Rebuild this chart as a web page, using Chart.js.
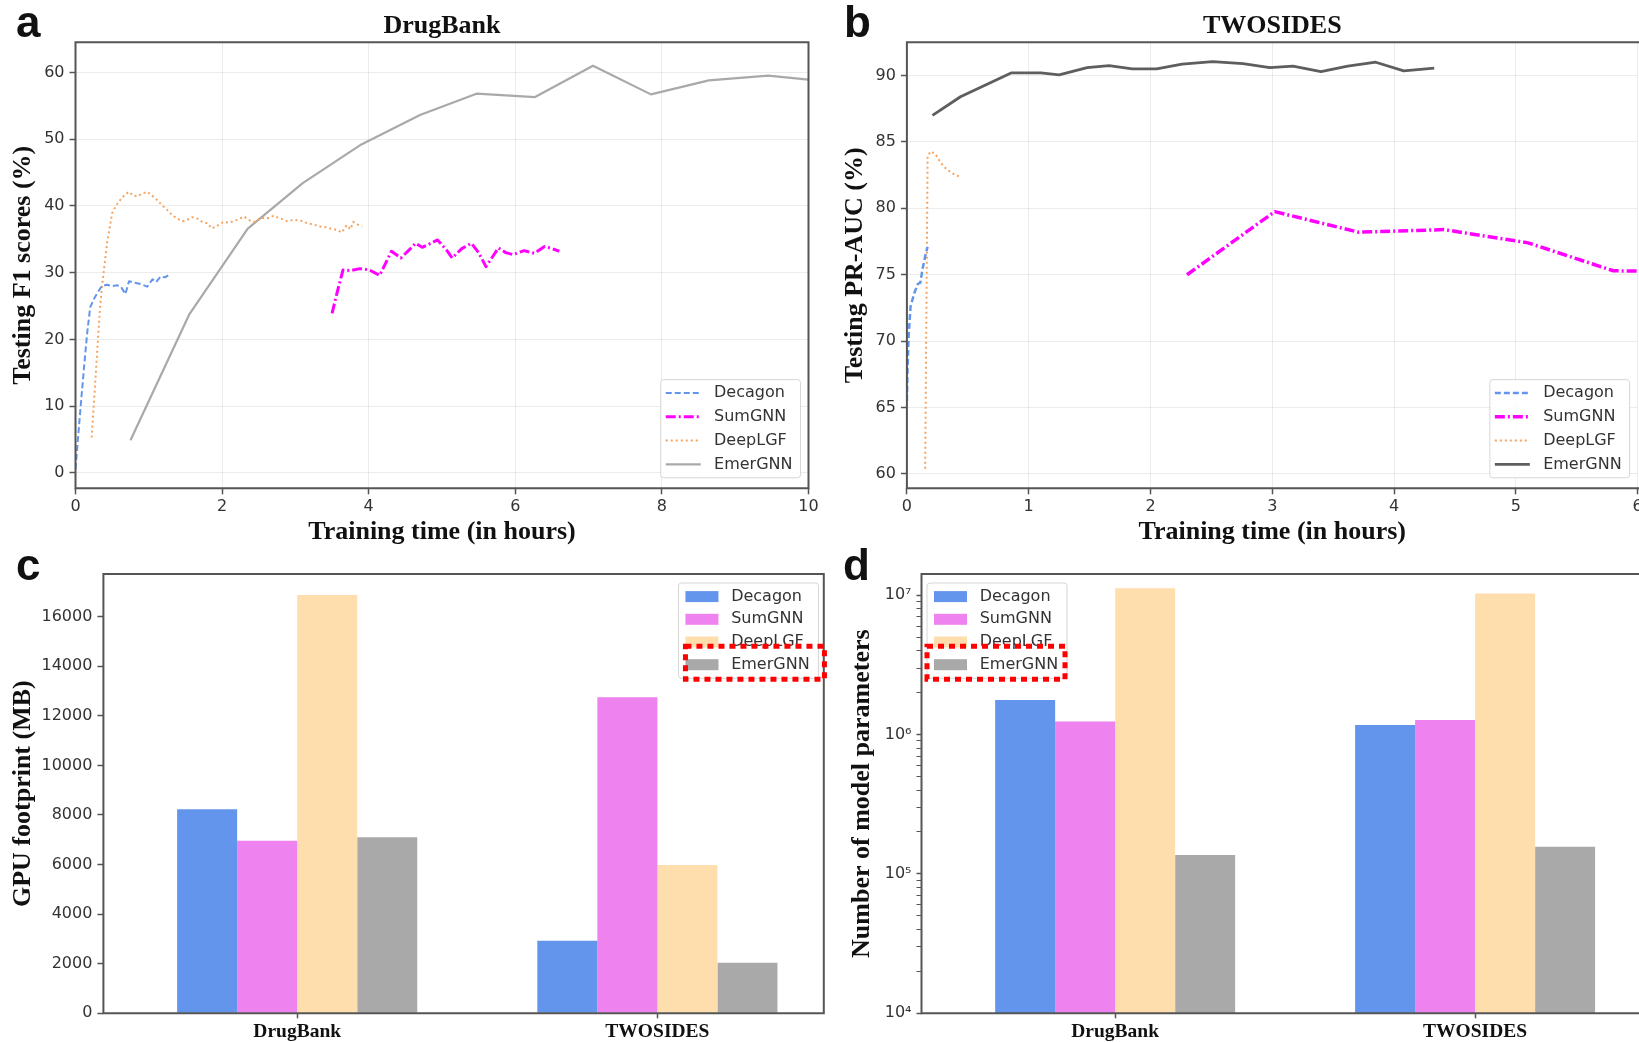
<!DOCTYPE html>
<html>
<head>
<meta charset="utf-8">
<title>EmerGNN efficiency</title>
<script src="https://cdn.jsdelivr.net/npm/chart.js@4.4.1/dist/chart.umd.min.js"></script>
<style>
  html, body { margin: 0; padding: 0; background: #fff; }
  body { width: 1639px; height: 1042px; overflow: hidden; position: relative; }
  .panel { position: absolute; }
  .panel canvas { display: block; }
</style>
</head>
<body>
<div class="panel" style="left:0px;top:0px;"><canvas id="chartA" width="830" height="560"></canvas></div>
<div class="panel" style="left:830px;top:0px;"><canvas id="chartB" width="820" height="560"></canvas></div>
<div class="panel" style="left:0px;top:540px;"><canvas id="chartC" width="840" height="502"></canvas></div>
<div class="panel" style="left:840px;top:540px;"><canvas id="chartD" width="810" height="502"></canvas></div>
<script>
// ---------- (a) DrugBank: testing F1 (%) against training time (hours) ----------
const dbDecagonHours = [0.0, 0.04, 0.09, 0.13, 0.16, 0.2, 0.25, 0.3, 0.36, 0.43, 0.5, 0.57, 0.62, 0.68, 0.73, 0.8, 0.89, 0.98, 1.05, 1.1, 1.16, 1.22, 1.28];
const dbDecagonF1    = [0.6, 6.0, 12.5, 17.5, 21.0, 24.8, 26.0, 27.0, 28.0, 28.2, 28.0, 28.1, 27.9, 26.8, 28.7, 28.5, 28.3, 27.9, 29.0, 28.6, 29.4, 29.3, 29.7];

const dbSumGNNHours = [3.5, 3.58, 3.65, 3.75, 3.88, 4.01, 4.15, 4.31, 4.44, 4.57, 4.64, 4.73, 4.81, 4.94, 5.06, 5.14, 5.27, 5.4, 5.5, 5.6, 5.77, 5.87, 5.97, 6.12, 6.26, 6.4, 6.5, 6.6];
const dbSumGNNF1    = [23.9, 27.5, 30.4, 30.3, 30.6, 30.4, 29.6, 33.2, 32.2, 33.6, 34.4, 33.8, 34.2, 34.9, 33.4, 32.2, 33.6, 34.4, 33.0, 30.9, 33.7, 33.0, 32.7, 33.3, 32.9, 33.9, 33.6, 33.2];

const dbDeepLGFHours = [0.22, 0.26, 0.3, 0.33, 0.36, 0.4, 0.43, 0.47, 0.5, 0.55, 0.59, 0.64, 0.69, 0.73, 0.78, 0.84, 0.9, 0.98, 1.04, 1.11, 1.18, 1.25, 1.32, 1.39, 1.46, 1.52, 1.59, 1.66, 1.73, 1.8, 1.86, 1.93, 2.02, 2.1, 2.2, 2.3, 2.38, 2.45, 2.53, 2.61, 2.7, 2.8, 2.89, 2.98, 3.07, 3.16, 3.25, 3.34, 3.42, 3.48, 3.57, 3.63, 3.7, 3.75, 3.79, 3.85, 3.91];
const dbDeepLGFF1    = [5.3, 12.0, 18.9, 24.0, 27.9, 31.5, 34.4, 37.0, 38.9, 40.0, 40.6, 41.3, 41.8, 42.1, 41.6, 41.4, 41.8, 42.1, 41.6, 40.9, 40.1, 39.4, 38.6, 38.1, 37.7, 37.9, 38.3, 38.1, 37.6, 37.4, 36.6, 37.0, 37.6, 37.5, 37.9, 38.4, 37.8, 37.6, 38.2, 38.1, 38.5, 38.1, 37.7, 37.9, 37.8, 37.4, 37.2, 36.9, 36.8, 36.6, 36.4, 36.0, 37.1, 36.5, 37.6, 37.2, 36.9];

const dbEmerGNNHours = [0.75, 1.55, 2.35, 3.1, 3.9, 4.7, 5.47, 6.27, 7.06, 7.85, 8.64, 9.45, 10.0];
const dbEmerGNNF1    = [4.9, 23.7, 36.6, 43.4, 49.2, 53.6, 56.8, 56.3, 61.0, 56.7, 58.8, 59.5, 58.9];

const f1TickValues = [0, 10, 20, 30, 40, 50, 60];
const dbHourTickValues = [0, 2, 4, 6, 8, 10];

// ---------- (b) TWOSIDES: testing PR-AUC (%) against training time (hours) ----------
const tsDecagonHours = [0.0, 0.005, 0.015, 0.03, 0.06, 0.09, 0.11, 0.13, 0.155, 0.17];
const tsDecagonAUC   = [65.5, 68.0, 70.5, 72.6, 73.6, 74.3, 74.4, 75.5, 76.6, 77.1];

const tsSumGNNHours = [2.3, 3.02, 3.71, 4.41, 5.1, 5.8, 6.5];
const tsSumGNNAUC   = [75.0, 79.75, 78.2, 78.4, 77.4, 75.3, 75.2];

const tsDeepLGFHours = [0.15, 0.16, 0.17, 0.2, 0.24, 0.28, 0.32, 0.36, 0.4, 0.43];
const tsDeepLGFAUC   = [60.4, 72.0, 84.0, 84.3, 84.0, 83.4, 83.0, 82.7, 82.5, 82.4];

const tsEmerGNNHours = [0.21, 0.44, 0.65, 0.86, 1.1, 1.25, 1.48, 1.66, 1.85, 2.05, 2.26, 2.51, 2.76, 2.98, 3.17, 3.4, 3.62, 3.85, 4.08, 4.33];
const tsEmerGNNAUC   = [87.0, 88.4, 89.3, 90.2, 90.2, 90.05, 90.6, 90.75, 90.5, 90.5, 90.85, 91.05, 90.9, 90.6, 90.7, 90.3, 90.7, 91.0, 90.35, 90.55];

const aucTickValues = [60, 65, 70, 75, 80, 85, 90];
const tsHourTickValues = [0, 1, 2, 3, 4, 5, 6];

// ---------- (c) GPU footprint (MB) and (d) number of model parameters ----------
const datasetNames = ['DrugBank', 'TWOSIDES'];
const groupPositions = [0, 1];
const modelNames = ['Decagon', 'SumGNN', 'DeepLGF', 'EmerGNN'];
const gpuDecagon = [8230, 2930];
const gpuSumGNN  = [6960, 12750];
const gpuDeepLGF = [16870, 5980];
const gpuEmerGNN = [7100, 2040];
const gpuTickValues = [0, 2000, 4000, 6000, 8000, 10000, 12000, 14000, 16000];

const paramDecagon = [1.77e6, 1.17e6];
const paramSumGNN  = [1.24e6, 1.27e6];
const paramDeepLGF = [1.12e7, 1.03e7];
const paramEmerGNN = [1.37e5, 1.57e5];
const paramMajorTicks = [1e4, 1e5, 1e6, 1e7];

// ---------- shared styling ----------
const SANS = '"DejaVu Sans", sans-serif';
const SERIF = '"Liberation Serif", "Times New Roman", serif';
const tickFont = { family: SANS, size: 16 };
const axisTitleFont = { family: SERIF, size: 26, weight: 'bold' };
const gridColor = 'rgba(0,0,0,0.075)';
const spineColor = '#555';
const barColors = ['#6495ED', '#EE82EE', '#FFDEAD', '#A9A9A9'];

function toPoints(xs, ys) { return xs.map((x, i) => ({ x: x, y: ys[i] })); }
function setTicks(values) { return ax => { ax.ticks = values.map(v => ({ value: v })); }; }

// Axes frame drawn on top of the data
const framePlugin = {
  id: 'frame',
  afterDatasetsDraw(chart, args, opts) {
    const { ctx, chartArea: a } = chart;
    ctx.save();
    ctx.strokeStyle = spineColor;
    ctx.lineWidth = 2;
    ctx.beginPath();
    if (opts.right === false) {
      ctx.moveTo(a.right + 5, a.top); ctx.lineTo(a.left, a.top);
      ctx.lineTo(a.left, a.bottom); ctx.lineTo(a.right + 5, a.bottom);
    } else {
      ctx.rect(a.left, a.top, a.right - a.left, a.bottom - a.top);
    }
    ctx.stroke();
    ctx.restore();
  }
};

// Panel letter and panel heading
const headingPlugin = {
  id: 'heading',
  afterDraw(chart, args, opts) {
    const { ctx, chartArea: a } = chart;
    ctx.save();
    ctx.fillStyle = '#111';
    ctx.textBaseline = 'alphabetic';
    ctx.font = 'bold 44px "Liberation Sans", Arial, sans-serif';
    ctx.textAlign = 'left';
    ctx.fillText(opts.letter, opts.letterX, opts.letterY);
    if (opts.title) {
      ctx.font = 'bold 26px ' + SERIF;
      ctx.textAlign = 'center';
      ctx.fillText(opts.title, (a.left + a.right) / 2, opts.titleY);
    }
    ctx.restore();
  }
};

// Legend placed inside the plotting area, with an optional dotted highlight of one entry
const innerLegendPlugin = {
  id: 'innerLegend',
  afterDraw(chart, args, o) {
    const { ctx, chartArea: a } = chart;
    const items = chart.data.datasets;
    ctx.save();
    ctx.font = o.fontSize + 'px ' + SANS;
    const textW = Math.max(...items.map(d => ctx.measureText(d.label).width));
    const w = o.textX + textW + o.padRight;
    const h = o.padY * 2 + (items.length - 1) * o.rowH;
    const x = o.anchorX === 'right' ? a.right - o.marginX - w : a.left + o.marginX;
    const y = o.anchorY === 'bottom' ? a.bottom - o.marginY - h : a.top + o.marginY;
    ctx.beginPath();
    ctx.roundRect(x, y, w, h, 3);
    ctx.fillStyle = 'rgba(255,255,255,0.85)';
    ctx.fill();
    ctx.strokeStyle = '#d6d6d6';
    ctx.lineWidth = 1;
    ctx.stroke();
    items.forEach((d, i) => {
      const cy = y + o.padY + i * o.rowH;
      if (o.kind === 'line') {
        ctx.strokeStyle = d.borderColor;
        ctx.lineWidth = d.borderWidth;
        ctx.setLineDash(d.borderDash || []);
        ctx.beginPath();
        ctx.moveTo(x + o.sampleX, cy);
        ctx.lineTo(x + o.sampleX + o.sampleW, cy);
        ctx.stroke();
        ctx.setLineDash([]);
      } else {
        ctx.fillStyle = d.backgroundColor;
        ctx.fillRect(x + o.sampleX, cy - o.patchH / 2, o.sampleW, o.patchH);
      }
      ctx.fillStyle = '#333';
      ctx.textBaseline = 'middle';
      ctx.textAlign = 'left';
      ctx.fillText(d.label, x + o.textX, cy);
    });
    if (o.highlight !== undefined) {
      const cy = y + o.padY + o.highlight * o.rowH;
      ctx.strokeStyle = '#ff0000';
      ctx.lineWidth = 5;
      ctx.setLineDash([6, 5]);
      ctx.strokeRect(x + o.hlX, cy - 18.5, o.hlW, 33);
    }
    ctx.restore();
  }
};

Chart.register(framePlugin, headingPlugin, innerLegendPlugin);

function lineDataset(label, xs, ys, color, width, dash) {
  return {
    label: label, data: toPoints(xs, ys), showLine: true,
    borderColor: color, backgroundColor: color, borderWidth: width, borderDash: dash,
    borderJoinStyle: 'round', pointRadius: 0, tension: 0
  };
}

function lineOptions(cfg) {
  return {
    responsive: false, animation: false, devicePixelRatio: 1,
    layout: { padding: { top: cfg.top, right: cfg.right, left: 0, bottom: 0 } },
    plugins: {
      legend: { display: false }, tooltip: { enabled: false },
      frame: { right: cfg.rightSpine },
      heading: cfg.heading,
      innerLegend: {
        kind: 'line', anchorX: 'right', anchorY: 'bottom', marginX: 8, marginY: 10.5,
        fontSize: 16, padY: 13.4, rowH: 23.8, sampleX: 5, sampleW: 35, textX: 53.3, padRight: 8
      }
    },
    scales: {
      x: {
        type: 'linear', min: cfg.xMin, max: cfg.xMax,
        afterBuildTicks: setTicks(cfg.xTicks),
        ticks: { font: tickFont, color: '#333', padding: 3, maxRotation: 0, autoSkip: false, callback: v => String(v) },
        grid: { color: gridColor, tickColor: spineColor, tickLength: 6, tickWidth: 1.5 },
        border: { display: false },
        title: { display: true, text: 'Training time (in hours)', font: axisTitleFont, color: '#111', padding: { top: 0, bottom: 12 } },
        afterFit: ax => { ax.height = cfg.xAxisH; }
      },
      y: {
        type: 'linear', min: cfg.yMin, max: cfg.yMax,
        afterBuildTicks: setTicks(cfg.yTicks),
        ticks: { font: tickFont, color: '#333', padding: 5, autoSkip: false, callback: v => String(v) },
        grid: { color: gridColor, tickColor: spineColor, tickLength: 6, tickWidth: 1.5 },
        border: { display: false },
        title: { display: true, text: cfg.yTitle, font: axisTitleFont, color: '#111', padding: { top: cfg.yTitlePad, bottom: 0 } },
        afterFit: ax => { ax.width = cfg.yAxisW; }
      }
    }
  };
}

// (a)
new Chart(document.getElementById('chartA'), {
  type: 'scatter',
  data: {
    datasets: [
      lineDataset('Decagon', dbDecagonHours, dbDecagonF1, '#6495ED', 2, [6, 3]),
      lineDataset('SumGNN', dbSumGNNHours, dbSumGNNF1, '#ff00ff', 3, [10, 3, 2, 3]),
      lineDataset('DeepLGF', dbDeepLGFHours, dbDeepLGFF1, '#f4a460', 2, [2, 3]),
      lineDataset('EmerGNN', dbEmerGNNHours, dbEmerGNNF1, '#a9a9a9', 2.2, [])
    ]
  },
  options: lineOptions({
    top: 42.3, right: 21.5, xAxisH: 71.7, yAxisW: 75.5, yTitlePad: 7.5, rightSpine: true,
    xMin: 0, xMax: 10, xTicks: dbHourTickValues,
    yMin: -2.3, yMax: 64.5, yTicks: f1TickValues, yTitle: 'Testing F1 scores (%)',
    heading: { letter: 'a', letterX: 16, letterY: 36.5, title: 'DrugBank', titleY: 33 }
  })
});

// (b)
new Chart(document.getElementById('chartB'), {
  type: 'scatter',
  data: {
    datasets: [
      lineDataset('Decagon', tsDecagonHours, tsDecagonAUC, '#6495ED', 2.5, [6, 3]),
      lineDataset('SumGNN', tsSumGNNHours, tsSumGNNAUC, '#ff00ff', 3.5, [10, 3, 2, 3]),
      lineDataset('DeepLGF', tsDeepLGFHours, tsDeepLGFAUC, '#f4a460', 2, [2, 3]),
      lineDataset('EmerGNN', tsEmerGNNHours, tsEmerGNNAUC, '#5e5e5e', 2.8, [])
    ]
  },
  options: lineOptions({
    top: 42.3, right: 12.4, xAxisH: 71.7, yAxisW: 76.9, yTitlePad: 9.4, rightSpine: false,
    xMin: 0, xMax: 6, xTicks: tsHourTickValues,
    yMin: 58.92, yMax: 92.5, yTicks: aucTickValues, yTitle: 'Testing PR-AUC (%)',
    heading: { letter: 'b', letterX: 14, letterY: 36.5, title: 'TWOSIDES', titleY: 33 }
  })
});

function barDatasets(seriesList) {
  return seriesList.map((vals, k) => ({
    label: modelNames[k],
    data: toPoints(groupPositions, vals),
    backgroundColor: barColors[k],
    borderWidth: 0,
    categoryPercentage: 0.6667,
    barPercentage: 1.0
  }));
}

function barOptions(cfg) {
  return {
    responsive: false, animation: false, devicePixelRatio: 1,
    layout: { padding: { top: cfg.top, right: cfg.right, left: 0, bottom: 0 } },
    plugins: {
      legend: { display: false }, tooltip: { enabled: false },
      frame: { right: true },
      heading: cfg.heading,
      innerLegend: Object.assign({
        kind: 'patch', fontSize: 16, padY: 13.6, rowH: 22.7, sampleX: 7, sampleW: 33, patchH: 11,
        textX: 52.7, padRight: 8.9, highlight: 3
      }, cfg.legend)
    },
    scales: {
      x: {
        type: 'linear', min: -0.538, max: 1.462, offset: false,
        afterBuildTicks: setTicks(groupPositions),
        ticks: {
          callback: v => datasetNames[groupPositions.indexOf(v)],
          font: { family: SERIF, size: 19.5, weight: 'bold' }, color: '#111', padding: 2,
          maxRotation: 0, autoSkip: false
        },
        grid: { drawOnChartArea: false, offset: false, tickColor: spineColor, tickLength: 5, tickWidth: 1.5 },
        border: { display: false },
        afterFit: ax => { ax.height = 28.7; }
      },
      y: cfg.y
    }
  };
}

// (c)
new Chart(document.getElementById('chartC'), {
  type: 'bar',
  data: { datasets: barDatasets([gpuDecagon, gpuSumGNN, gpuDeepLGF, gpuEmerGNN]) },
  options: barOptions({
    top: 34, right: 16.2,
    heading: { letter: 'c', letterX: 16, letterY: 40 },
    legend: { anchorX: 'right', anchorY: 'top', marginX: 5.3, marginY: 9, hlX: 7, hlW: 139 },
    y: {
      type: 'linear', min: 0, max: 17720,
      afterBuildTicks: setTicks(gpuTickValues),
      ticks: { font: tickFont, color: '#333', padding: 5, autoSkip: false, callback: v => String(v) },
      grid: { drawOnChartArea: false, tickColor: spineColor, tickLength: 6, tickWidth: 1.5 },
      border: { display: false },
      title: { display: true, text: 'GPU footprint (MB)', font: axisTitleFont, color: '#111', padding: { top: 7.4, bottom: 0 } },
      afterFit: ax => { ax.width = 103.4; }
    }
  })
});

// (d)
const superDigits = { '0': '⁰', '1': '¹', '2': '²', '3': '³', '4': '⁴', '5': '⁵', '6': '⁶', '7': '⁷', '8': '⁸', '9': '⁹' };
const paramTickValues = [];
paramMajorTicks.forEach(p => { for (let m = 1; m <= 9; m++) { const v = m * p; if (v <= 1.42e7) paramTickValues.push(v); } });
function powerLabel(v) {
  const e = Math.round(Math.log10(v));
  if (Math.abs(v - Math.pow(10, e)) > 1e-6 * v) return '';
  return '10' + String(e).split('').map(c => superDigits[c]).join('');
}

new Chart(document.getElementById('chartD'), {
  type: 'bar',
  data: { datasets: barDatasets([paramDecagon, paramSumGNN, paramDeepLGF, paramEmerGNN]) },
  options: barOptions({
    top: 34, right: 8.6,
    heading: { letter: 'd', letterX: 3, letterY: 40 },
    legend: { anchorX: 'left', anchorY: 'top', marginX: 5.5, marginY: 9, hlX: 0, hlW: 138 },
    y: {
      type: 'logarithmic', min: 1e4, max: 1.42e7,
      afterBuildTicks: setTicks(paramTickValues),
      ticks: { callback: v => powerLabel(v), font: tickFont, color: '#333', padding: 5, autoSkip: false },
      grid: {
        drawOnChartArea: false, tickColor: spineColor, tickLength: 5,
        tickWidth: ctx => (powerLabel(ctx.tick.value) ? 1.5 : 1)
      },
      border: { display: false },
      title: { display: true, text: 'Number of model parameters', font: axisTitleFont, color: '#111', padding: { top: 6.4, bottom: 0 } },
      afterFit: ax => { ax.width = 81.5; }
    }
  })
});
</script>
</body>
</html>
